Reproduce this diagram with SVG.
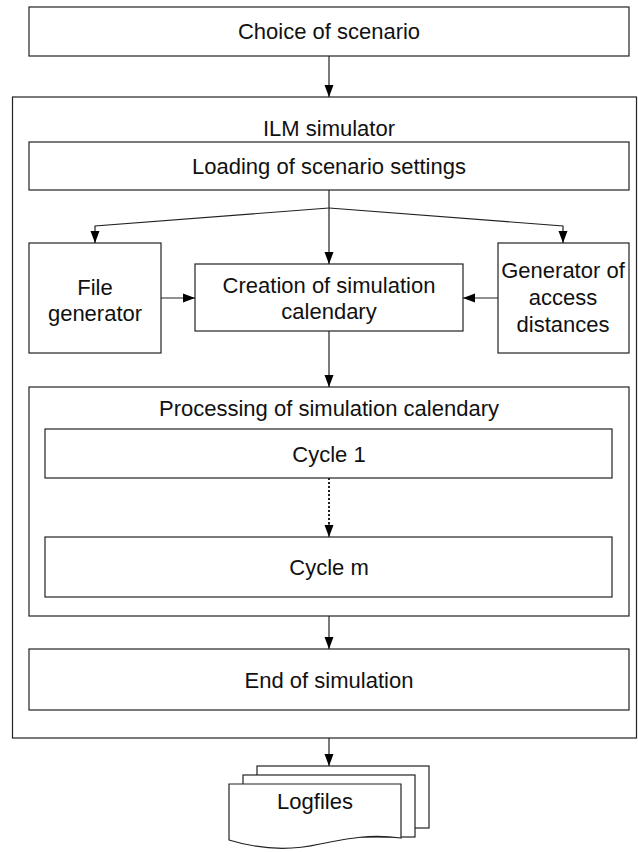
<svg xmlns="http://www.w3.org/2000/svg" width="638" height="852" viewBox="0 0 638 852">
<style>
.b{fill:#fff;stroke:#222;stroke-width:1.2}
.t{font-family:"Liberation Sans",Arial,sans-serif;font-size:22px;fill:#111;text-anchor:middle}
.c{fill:none;stroke:#222;stroke-width:1.2}
.d{fill:none;stroke:#222;stroke-width:2;stroke-dasharray:2 2}
</style>
<defs>
<marker id="ahl" viewBox="0 0 12 10" refX="12" refY="5" markerWidth="12" markerHeight="10" markerUnits="userSpaceOnUse" orient="auto">
<path d="M0,0.5 L12,5 L0,9.5 Z" fill="#000"/>
</marker>
</defs>
<rect width="638" height="852" fill="#fff"/>
<g id="choice"><rect class="b" x="29" y="7" width="600" height="49"/><text class="t" x="329" y="39">Choice of scenario</text></g>
<g id="ilm"><rect class="b" x="12.5" y="97" width="624" height="641"/><text class="t" x="329" y="136">ILM simulator</text></g>
<g id="loading"><rect class="b" x="29" y="142" width="600" height="48"/><text class="t" x="329" y="174">Loading of scenario settings</text></g>
<g id="filegen"><rect class="b" x="29" y="243" width="132" height="110"/><text class="t" x="95" y="295">File</text><text class="t" x="95" y="321">generator</text></g>
<g id="creation"><rect class="b" x="195" y="264" width="268" height="67"/><text class="t" x="329" y="293">Creation of simulation</text><text class="t" x="329" y="319">calendary</text></g>
<g id="accessgen"><rect class="b" x="498" y="243" width="131" height="110"/><text class="t" x="563" y="278">Generator of</text><text class="t" x="563" y="305">access</text><text class="t" x="563" y="332">distances</text></g>
<g id="processing"><rect class="b" x="29" y="387" width="600" height="229"/><text class="t" x="329" y="416">Processing of simulation calendary</text></g>
<g id="cycle1"><rect class="b" x="45" y="429" width="567" height="49"/><text class="t" x="329" y="462">Cycle 1</text></g>
<g id="cyclem"><rect class="b" x="45" y="537" width="567" height="60"/><text class="t" x="329" y="575">Cycle m</text></g>
<g id="end"><rect class="b" x="29" y="649" width="600" height="61"/><text class="t" x="329" y="688">End of simulation</text></g>
<g id="logfiles">
<rect class="b" x="257" y="766" width="172" height="62"/>
<rect class="b" x="243" y="775" width="172" height="62"/>
<path class="b" d="M229,784 L401,784 L401,838 C370,834 350,838 320,844 C285,852 255,848 229,840 Z"/>
<text class="t" x="315" y="809">Logfiles</text>
</g>
<g id="connectors">
<path class="c" d="M329,56 V97" marker-end="url(#ahl)"/>
<path class="c" d="M329,190 V264" marker-end="url(#ahl)"/>
<path class="c" d="M329,208 L95,226 V243" marker-end="url(#ahl)"/>
<path class="c" d="M329,208 L563,226 V243" marker-end="url(#ahl)"/>
<path class="c" d="M161,298 H195" marker-end="url(#ahl)"/>
<path class="c" d="M498,298 H463" marker-end="url(#ahl)"/>
<path class="c" d="M329,331 V387" marker-end="url(#ahl)"/>
<path class="d" d="M329,478 V525"/>
<path class="c" d="M329,524 V537" marker-end="url(#ahl)"/>
<path class="c" d="M329,616 V649" marker-end="url(#ahl)"/>
<path class="c" d="M329,738 V766" marker-end="url(#ahl)"/>
</g>
</svg>
